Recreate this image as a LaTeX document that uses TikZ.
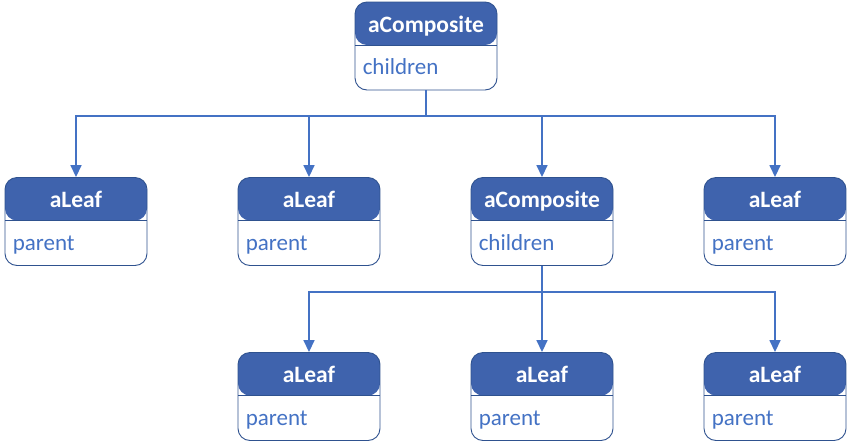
\documentclass[tikz,border=0pt]{standalone}
\usepackage{fontspec}
\setmainfont{Carlito}
\usetikzlibrary{arrows.meta}
\definecolor{headc}{HTML}{3F63AD}
\definecolor{bordc}{HTML}{2F528F}
\definecolor{linec}{HTML}{4472C4}
\tikzset{
  obj/.style={draw=bordc, line width=0.9pt, rounded corners=12pt,
    minimum width=142pt, minimum height=88pt, inner sep=0pt,
    path picture={\fill[headc] (path picture bounding box.north west) rectangle ([yshift=-43pt]path picture bounding box.north east);
      \draw[bordc, line width=0.9pt] ([yshift=-43pt]path picture bounding box.north west) -- ([yshift=-43pt]path picture bounding box.north east);}},
  headtxt/.style={text=white, font=\fontsize{23.5}{27}\selectfont\bfseries, inner sep=0pt, anchor=base},
  bodytxt/.style={text=linec, font=\fontsize{23}{27}\selectfont, inner sep=0pt, anchor=base west},
  arr/.style={draw=linec, line width=1.6pt, -{Triangle[width=11pt,length=12pt]}},
  ln/.style={draw=linec, line width=1.6pt}
}
\newcommand\objbox[5]{%
  \node[obj] (#1) at (#2,#3) {};
  \node[headtxt] (#1h) at ([yshift=-30.5pt]#1.north) {#4};
  \node[bodytxt] (#1b) at ([xshift=8pt,yshift=-73pt]#1.north west) {#5};
}
\begin{document}
\begin{tikzpicture}[x=1pt,y=-1pt]
\useasboundingbox (0,0) rectangle (848,445);
\objbox{c1}{426}{46}{aComposite}{children}
\objbox{l1}{76}{221.5}{aLeaf}{parent}
\objbox{l2}{309}{221.5}{aLeaf}{parent}
\objbox{c2}{542}{221.5}{aComposite}{children}
\objbox{l4}{775}{221.5}{aLeaf}{parent}
\objbox{l5}{309}{396.5}{aLeaf}{parent}
\objbox{l6}{542}{396.5}{aLeaf}{parent}
\objbox{l7}{775}{396.5}{aLeaf}{parent}
\coordinate (bus1) at (426,116);
\coordinate (bus2) at (542,292);
\draw[arr] (c1.south) -- (c1.south |- bus1) -| (l1.north);
\draw[arr] (c1.south) -- (c1.south |- bus1) -| (l2.north);
\draw[arr] (c1.south) -- (c1.south |- bus1) -| (c2.north);
\draw[arr] (c1.south) -- (c1.south |- bus1) -| (l4.north);
\draw[arr] (c2.south) -- (c2.south |- bus2) -| (l5.north);
\draw[arr] (c2.south) -- (l6.north);
\draw[arr] (c2.south) -- (c2.south |- bus2) -| (l7.north);
\end{tikzpicture}
\end{document}
